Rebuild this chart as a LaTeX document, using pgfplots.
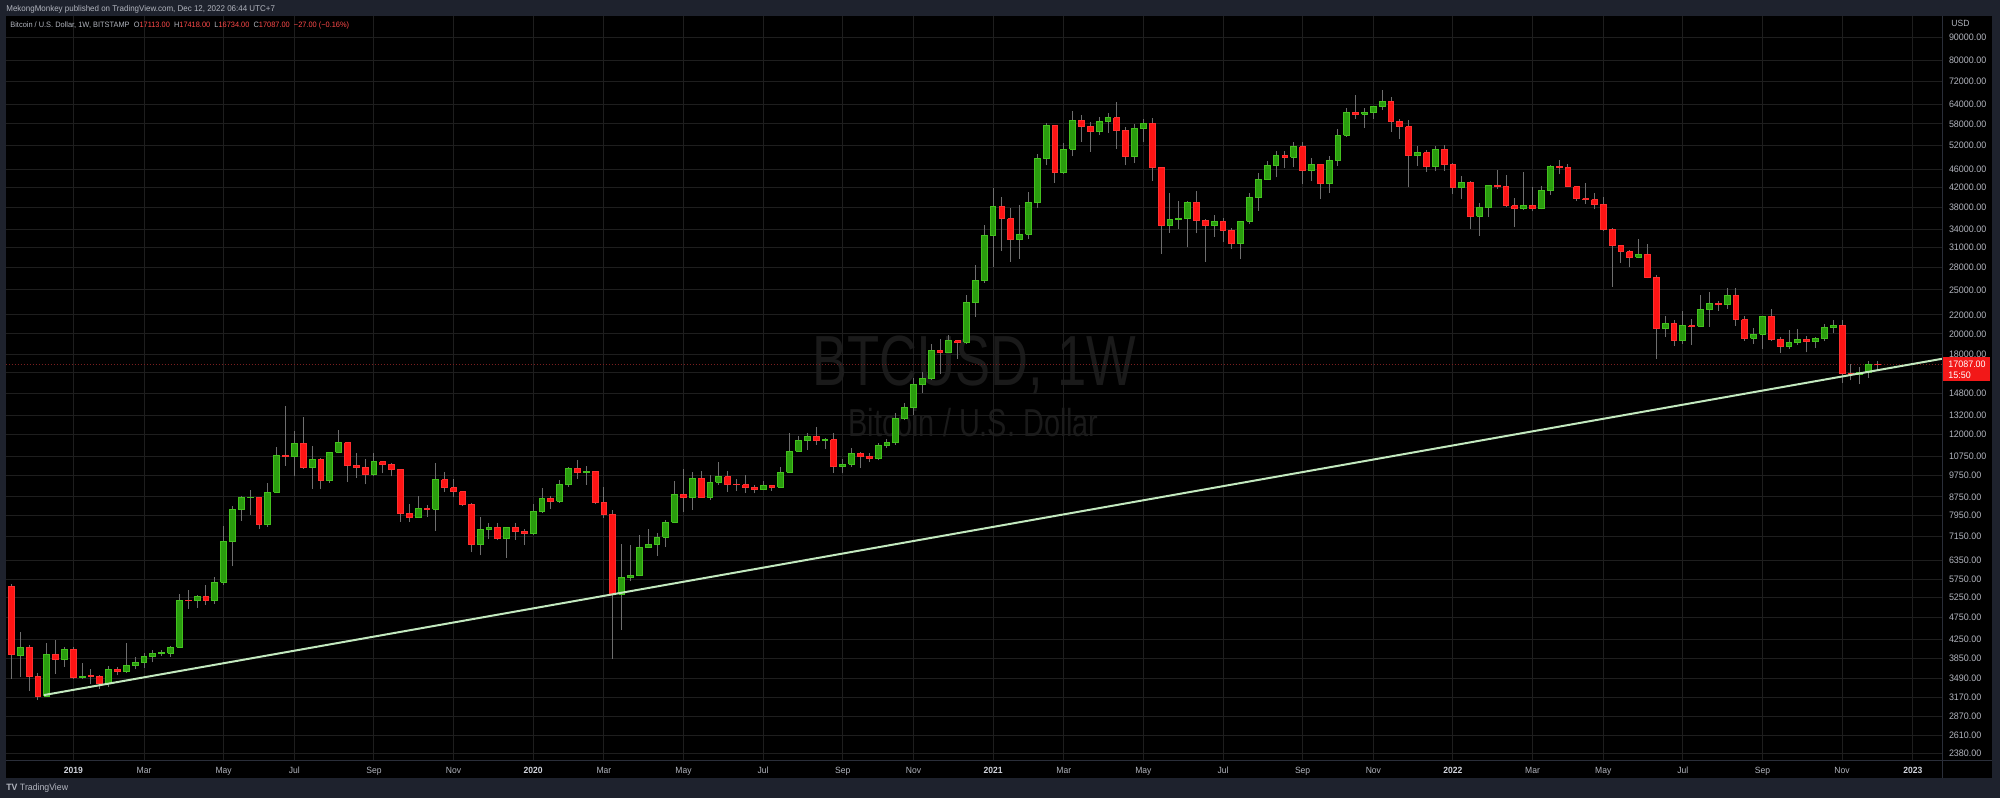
\documentclass[border=0pt]{standalone}
\usepackage{fontspec}
\setmainfont{Liberation Sans}
\newfontfamily\tvf[FakeStretch=0.95]{Liberation Sans}
\newfontfamily\wmf[FakeStretch=0.74]{Liberation Sans}
\usepackage{pgfplots}
\usepackage{pgfplotstable}
\pgfplotsset{compat=1.18}
\definecolor{frame}{HTML}{1E222D}
\definecolor{sep}{HTML}{2A2E39}
\definecolor{gridc}{HTML}{1E1E1E}
\definecolor{lbl}{HTML}{B2B5BE}
\definecolor{yr}{HTML}{D1D4DC}
\definecolor{wm}{HTML}{1A1A1A}
\definecolor{upf}{HTML}{2A9D0E}
\definecolor{upd}{HTML}{43C11E}
\definecolor{dnf}{HTML}{FF1414}
\definecolor{dnd}{HTML}{FF3030}
\definecolor{wick}{HTML}{6E6E6E}
\definecolor{trend}{HTML}{C2E8BE}
\definecolor{rd}{HTML}{FF4A4A}
\definecolor{pbox}{HTML}{F21818}
\definecolor{dotc}{HTML}{7A1F1F}

\pgfplotstableread{
i O H L C u
-8 6350 6480 5330 5550 0
-7 5550 5620 3470 3940 0
-6 3910 4400 3515 4080 1
-5 4080 4120 3270 3520 0
-4 3515 3580 3122 3186 0
-3 3186 4163 3170 3939 1
-2 3939 4225 3565 3830 0
-1 3830 4080 3690 4025 1
0 4025 4090 3470 3506 0
1 3500 3760 3469 3525 1
2 3530 3650 3380 3510 0
3 3520 3540 3310 3390 0
4 3390 3710 3330 3650 1
5 3650 3700 3540 3610 0
6 3610 4175 3590 3720 1
7 3720 3890 3650 3783 1
8 3783 3960 3670 3890 1
9 3890 4030 3780 3960 1
10 3955 4030 3900 3970 1
11 3960 4100 3880 4084 1
12 4084 5350 4070 5184 1
13 5184 5450 4960 5160 0
14 5160 5330 4990 5280 1
15 5280 5600 5050 5160 0
16 5160 5830 5080 5680 1
17 5680 7550 5600 6960 1
18 6960 8350 6150 8184 1
19 8184 8800 7760 8710 1
20 8710 9070 7970 8740 1
21 8740 8760 7420 7590 0
22 7590 9370 7520 8958 1
23 8958 11250 8950 10800 1
24 10800 13870 10250 10750 0
25 10750 12200 9700 11440 1
26 11440 13100 10100 10145 0
27 10145 11300 9100 10580 1
28 10580 10650 9100 9496 0
29 9496 11000 9400 10960 1
30 10960 12300 10900 11520 1
31 11520 11550 9450 10270 0
32 10270 10900 9620 10150 0
33 10150 10580 9320 9790 0
34 9790 10940 9700 10450 1
35 10450 10500 9850 10320 0
36 10320 10400 9700 10050 0
37 10050 10080 7720 8020 0
38 8020 8450 7720 7860 0
39 7860 8800 7850 8254 1
40 8254 8400 7900 8210 0
41 8210 10370 7360 9535 1
42 9535 9940 8970 9160 0
43 9160 9570 8720 8966 0
44 8966 9020 8350 8430 0
45 8430 8480 6600 6880 0
46 6880 7900 6500 7400 1
47 7400 7680 7070 7500 1
48 7500 7650 7020 7080 0
49 7080 7520 6430 7500 1
50 7500 7680 7040 7330 0
51 7330 7450 6860 7250 0
52 7250 8430 7220 8140 1
53 8140 9160 8080 8686 1
54 8686 8790 8240 8560 0
55 8560 9530 8480 9290 1
56 9290 10200 9200 10110 1
57 10110 10520 9600 9890 0
58 9890 10250 9300 9950 1
59 9950 9970 8420 8500 0
60 8500 9190 7850 8000 0
61 8000 8180 3850 5340 0
62 5340 6900 4450 5800 1
63 5800 6850 5700 5880 1
64 5880 7200 5860 6760 1
65 6760 7430 6740 6880 1
66 6880 7300 6480 7130 1
67 7130 7780 6800 7700 1
68 7700 9460 7660 8860 1
69 8860 10060 8120 8700 0
70 8700 9930 8200 9615 1
71 9615 9950 8700 8720 0
72 8720 9750 8630 9430 1
73 9430 10430 9280 9690 1
74 9690 9990 8980 9330 0
75 9330 9570 9030 9300 0
76 9300 9780 8930 9150 0
77 9150 9300 8900 9080 0
78 9080 9470 9050 9280 1
79 9280 9300 9030 9180 0
80 9180 10200 9140 9920 1
81 9920 12100 9850 11030 1
82 11030 11920 10990 11630 1
83 11630 12080 11120 11900 1
84 11900 12480 11370 11650 0
85 11650 11800 11150 11700 1
86 11700 12080 9880 10200 0
87 10200 10590 9850 10330 1
88 10330 11180 10200 10920 1
89 10920 10980 10140 10750 0
90 10750 10950 10420 10600 0
91 10600 11480 10530 11340 1
92 11340 11720 11200 11500 1
93 11500 13380 11400 13000 1
94 13000 14100 12900 13740 1
95 13740 15960 13230 15450 1
96 15450 16480 14830 15960 1
97 15960 18950 15800 18420 1
98 18420 19450 16330 18190 0
99 18190 19900 18120 19300 1
100 19300 19420 17600 19170 0
101 19170 24300 19000 23480 1
102 23480 28400 21800 26250 1
103 26250 34800 25900 33000 1
104 33000 41950 28000 38200 1
105 38200 40100 30400 35800 0
106 35800 37850 28850 32250 0
107 32250 38500 29250 33100 1
108 33100 40950 32300 38900 1
109 38900 49700 37900 48600 1
110 48600 58350 47000 57400 1
111 57400 57550 43000 45250 0
112 45250 52600 44900 51000 1
113 51000 61800 49200 59000 1
114 59000 60700 53000 57300 0
115 57300 58400 50400 55800 0
116 55800 60000 54800 58700 1
117 58700 61300 55500 59800 1
118 59800 64900 51000 56200 0
119 56200 57000 47000 49100 0
120 49100 58000 47500 56600 1
121 56600 59500 53000 58200 1
122 58200 59600 43500 46400 0
123 46400 46600 30000 34700 0
124 34700 40900 33400 35700 1
125 35700 39200 34000 35800 1
126 35800 39300 31000 39000 1
127 39000 41300 33300 35500 0
128 35500 35800 28800 34700 0
129 34700 36600 32700 35300 1
130 35300 35900 31900 33800 0
131 33800 34200 30800 31550 0
132 31550 35500 29200 35400 1
133 35400 40900 34900 39850 1
134 39850 45300 37300 43800 1
135 43800 48100 43600 47000 1
136 47000 50500 44200 49300 1
137 49300 50500 46400 48900 0
138 48900 52900 46500 51600 1
139 51600 52900 42800 45700 0
140 45700 48800 43400 47100 1
141 47100 47400 39600 42900 0
142 42900 49300 40800 48200 1
143 48200 56500 46900 54700 1
144 54700 62900 54200 61500 1
145 61500 67000 59500 60900 0
146 60900 63000 56800 61300 1
147 61300 63500 59500 63300 1
148 63300 69000 62300 65000 1
149 65000 66300 55600 58700 0
150 58700 59300 53600 57200 0
151 57200 59200 42000 49300 0
152 49300 51900 46800 50100 1
153 50100 50700 45500 46700 0
154 46700 51900 45600 50800 1
155 50800 52100 45700 47300 0
156 47300 47600 40600 41900 0
157 41900 44500 39700 43100 1
158 43100 43500 34000 36300 0
159 36300 38900 32900 37900 1
160 37900 42600 36200 42400 1
161 42400 45800 41700 42200 0
162 42200 44800 38000 38300 0
163 38300 39800 34300 37700 0
164 37700 45400 37500 38400 1
165 38400 42000 37200 37800 0
166 37800 42300 37600 41300 1
167 41300 47000 40500 46800 1
168 46800 48200 44900 46400 0
169 46400 47200 42100 42200 0
170 42200 42400 39200 39700 0
171 39700 42900 38600 39500 0
172 39500 40800 37600 38500 0
173 38500 40000 33700 34000 0
174 34000 34200 25400 31300 0
175 31300 31400 28700 30300 0
176 30300 30600 28000 29450 0
177 29450 32400 29300 29900 1
178 29900 31600 26500 26600 0
179 26600 26900 17600 20550 0
180 20550 21900 19700 21050 1
181 21050 21500 18800 19300 0
182 19300 22400 19000 20850 1
183 20850 21600 18900 20800 0
184 20800 24300 20700 22600 1
185 22600 24700 20700 23300 1
186 23300 23650 22450 23200 0
187 23200 25200 22700 24300 1
188 24300 25200 20800 21500 0
189 21500 21900 19300 19550 0
190 19550 20550 19000 19980 1
191 19980 21850 18550 21800 1
192 21800 22700 19300 19400 0
193 19400 19700 18150 18800 0
194 18800 20350 18500 19100 1
195 19100 20450 18900 19450 1
196 19450 19800 18200 19200 0
197 19200 19700 18650 19570 1
198 19570 21000 19250 20600 1
199 20600 21450 20050 20900 1
200 20900 21500 15600 16330 0
201 16330 17200 15800 16280 0
202 16280 16900 15480 16450 1
203 16450 17400 16000 17110 1
204 17113 17418 16734 17087 0
}\btc

\begin{document}
\begin{tikzpicture}
% ---------- background (1px = 0.5pt, y downwards) ----------
\begin{scope}[x=0.5pt,y=-0.5pt]
\fill[frame] (0,0) rectangle (2000,798);
\fill[black] (6,16) rectangle (1992,778);
\node[font=\wmf\fontsize{35.5pt}{36pt}\selectfont, text=wm, anchor=base, inner sep=0pt] at (974.5,385) {BTCUSD, 1W};
\node[font=\wmf\fontsize{19.5pt}{20pt}\selectfont, text=wm, anchor=base, inner sep=0pt] at (973.5,436) {Bitcoin / U.S. Dollar};
\end{scope}

\begin{axis}[
  at={(3pt,-380pt)}, anchor=south west,
  scale only axis, width=968pt, height=372pt,
  xmin=-7.61, xmax=211.3,
  ymode=log, ymin=2303.5, ymax=100215,
  axis line style={draw=none},
  major tick length=0pt,
  grid=major,
  major grid style={gridc, line width=0.5pt},
  xtick={0,8,17,25,34,43,52,60,69,78,87,95,104,112,121,130,139,147,156,165,173,182,191,200,208},
  xticklabels={\textbf{\color{yr}2019},Mar,May,Jul,Sep,Nov,\textbf{\color{yr}2020},Mar,May,Jul,Sep,Nov,\textbf{\color{yr}2021},Mar,May,Jul,Sep,Nov,\textbf{\color{yr}2022},Mar,May,Jul,Sep,Nov,\textbf{\color{yr}2023}},
  ytick={90000,80000,72000,64000,58000,52000,46000,42000,38000,34000,31000,28000,25000,22000,20000,18000,16400,14800,13200,12000,10750,9750,8750,7950,7150,6350,5750,5250,4750,4250,3850,3490,3170,2870,2610,2380},
  yticklabels={90000.00,80000.00,72000.00,64000.00,58000.00,52000.00,46000.00,42000.00,38000.00,34000.00,31000.00,28000.00,25000.00,22000.00,20000.00,18000.00,,14800.00,13200.00,12000.00,10750.00,9750.00,8750.00,7950.00,7150.00,6350.00,5750.00,5250.00,4750.00,4250.00,3850.00,3490.00,3170.00,2870.00,2610.00,2380.00},
  yticklabel pos=right,
  tick label style={text=lbl, inner sep=0pt},
  yticklabel style={anchor=west, xshift=3.3pt, font=\tvf\fontsize{4.7pt}{5pt}\selectfont},
  xticklabel style={anchor=base, yshift=-6.8pt, font=\tvf\fontsize{4.5pt}{5pt}\selectfont},
  wick/.style={draw=wick, line width=0.5pt},
  bodyup/.style={fill=upf, draw=upd, line width=0.5pt},
  bodydn/.style={fill=dnf, draw=dnd, line width=0.5pt},
]
\addplot[dotc, densely dotted, line width=0.5pt] coordinates {(-8,17087) (212,17087)};
\pgfplotstablegetrowsof{\btc}
\pgfmathtruncatemacro{\nlast}{\pgfplotsretval-1}
\pgfplotsforeachungrouped \rr in {0,...,\nlast}{%
  \pgfplotstablegetelem{\rr}{i}\of\btc \let\cI\pgfplotsretval
  \pgfplotstablegetelem{\rr}{O}\of\btc \let\cO\pgfplotsretval
  \pgfplotstablegetelem{\rr}{H}\of\btc \let\cH\pgfplotsretval
  \pgfplotstablegetelem{\rr}{L}\of\btc \let\cL\pgfplotsretval
  \pgfplotstablegetelem{\rr}{C}\of\btc \let\cC\pgfplotsretval
  \pgfplotstablegetelem{\rr}{u}\of\btc \let\cU\pgfplotsretval
  \pgfmathsetmacro{\xl}{\cI-0.33}%
  \pgfmathsetmacro{\xr}{\cI+0.33}%
  \ifnum\cU=1 \def\cst{up}\else\def\cst{dn}\fi
  \edef\doit{\noexpand\addplot[wick] coordinates {(\cI,\cL) (\cI,\cH)};
    \noexpand\addplot[body\cst] coordinates {(\xl,\cO) (\xr,\cO) (\xr,\cC) (\xl,\cC) (\xl,\cO)};}%
  \doit
}
\addplot[trend, line width=1pt] coordinates {(-3.31,3202) (211.3,17620)};
\end{axis}

% ---------- overlays ----------
\begin{scope}[x=0.5pt,y=-0.5pt]
\draw[sep, line width=0.5pt] (6,760) -- (1992,760);
\draw[sep, line width=0.5pt] (1942,16) -- (1942,778);
\fill[pbox] (1943,357) rectangle (1990,381);
\node[font=\tvf\fontsize{4.7pt}{5pt}\selectfont, text=white, anchor=west, inner sep=0pt] at (1948,364.5) {17087.00};
\node[font=\tvf\fontsize{4.7pt}{5pt}\selectfont, text=white, anchor=west, inner sep=0pt] at (1948,375) {15:50};
\node[font=\tvf\fontsize{4.5pt}{5pt}\selectfont, text=lbl, anchor=west, inner sep=0pt] at (1951,23.5) {USD};
\node[font=\tvf\fontsize{4.2pt}{5pt}\selectfont, text=lbl, anchor=west, inner sep=0pt] at (6,9) {MekongMonkey published on TradingView.com, Dec 12, 2022 06:44 UTC+7};
\node[font=\tvf\fontsize{3.9pt}{5pt}\selectfont, text=lbl, anchor=west, inner sep=0pt] at (10,25) {Bitcoin / U.S. Dollar, 1W, BITSTAMP\ \ O\textcolor{rd}{17113.00}\ \ H\textcolor{rd}{17418.00}\ \ L\textcolor{rd}{16734.00}\ \ C\textcolor{rd}{17087.00}\ \ \textcolor{rd}{−27.00 (−0.16\%)}};
\node[font=\tvf\fontsize{4.6pt}{5pt}\selectfont, text=lbl, anchor=west, inner sep=0pt] at (6,788) {\textbf{TV}\ TradingView};
\end{scope}
\end{tikzpicture}
\end{document}
